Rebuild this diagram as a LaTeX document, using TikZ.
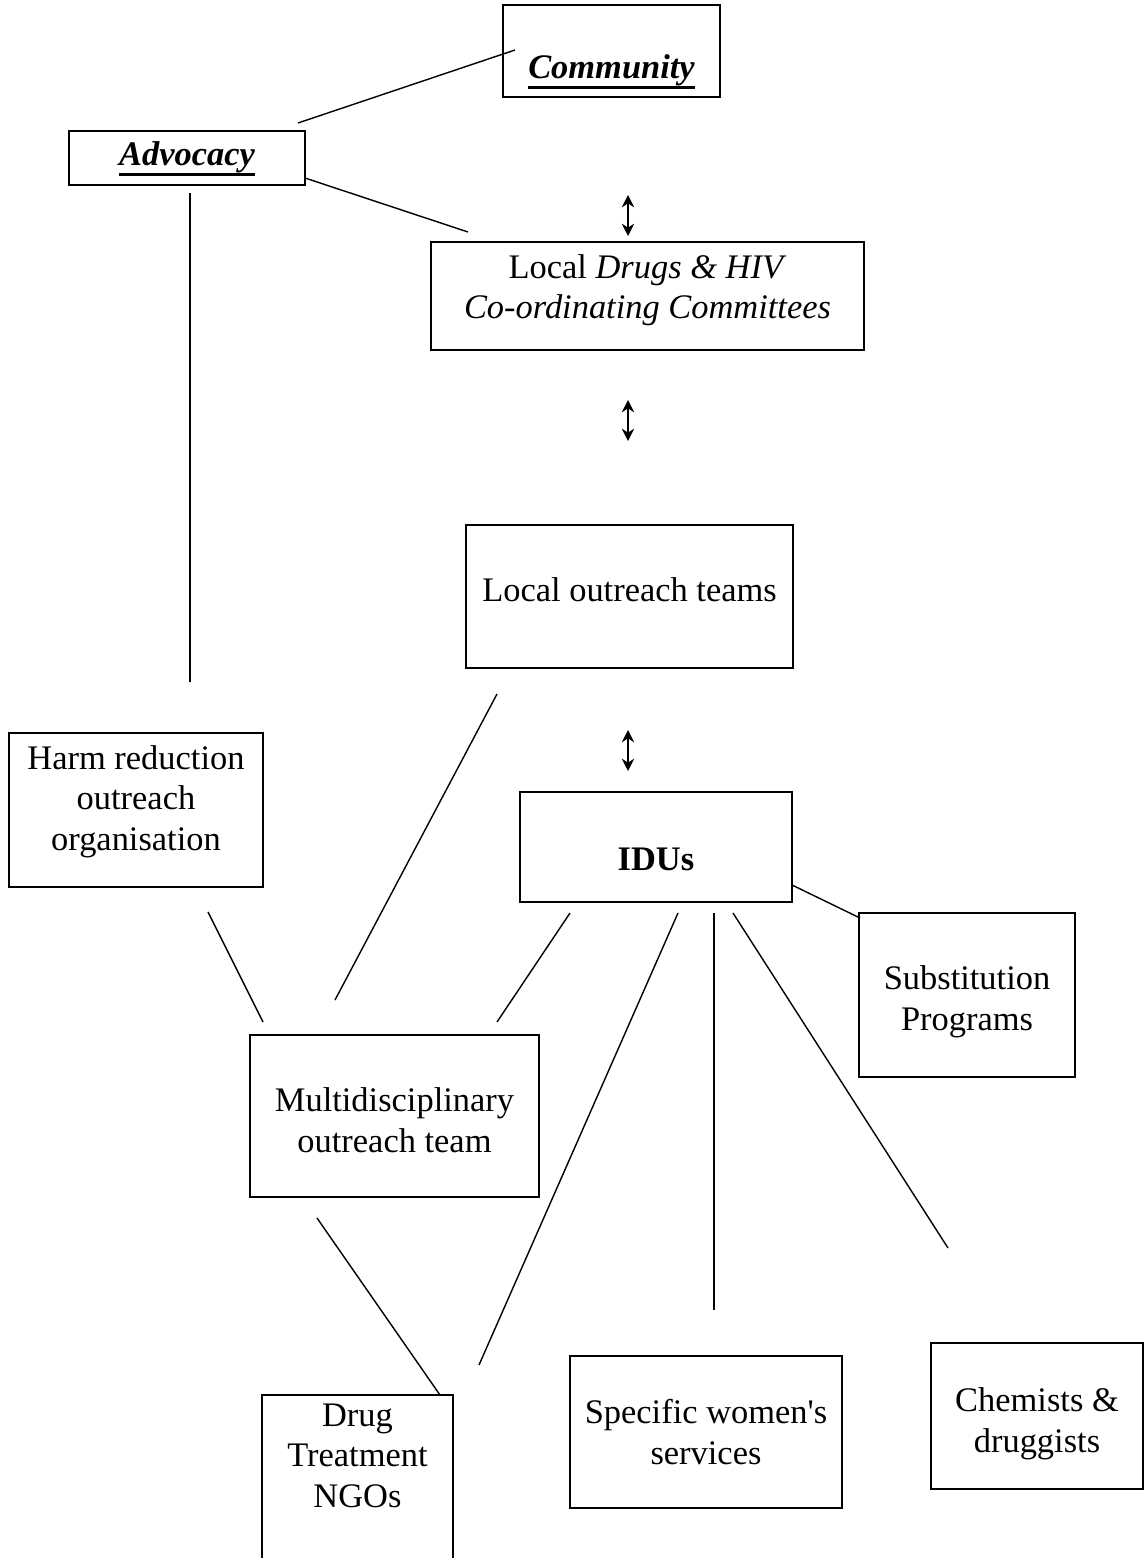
\documentclass[tikz,border=0pt]{standalone}
\usepackage{fontspec}
\setmainfont{Liberation Serif}[Ligatures=TeXOff]
\usepackage{tikz}
\usetikzlibrary{arrows.meta}
\newcommand{\headul}[1]{\setbox0\hbox{#1}\rlap{\vrule width \wd0 height -4.2pt depth 5.9pt}\box0}

\begin{document}
\begin{tikzpicture}[
  x=0.02cm, y=-0.02cm, line width=0.8pt,
  font=\fontsize{19.6}{22.8}\selectfont,
  box/.style={draw, line width=0.9pt, align=center, inner sep=0pt, text depth=0pt},
  twoway/.style={{Stealth[length=7pt,width=7pt]}-{Stealth[length=7pt,width=7pt]}, line width=0.9pt},
  head/.style={font=\fontsize{19.6}{22.8}\selectfont\bfseries\itshape},
]
\useasboundingbox (0,0) rectangle (1144,1558);

% boxes
\node[box, head, minimum width=4.34cm, minimum height=1.84cm, text height=1.12cm] (community) at (611.5,51) {\headul{Community}};
\node[box, head, minimum width=4.72cm, minimum height=1.08cm, text height=0.3cm] (advocacy) at (187,158) {\headul{Advocacy}};
\node[box, minimum width=8.66cm, minimum height=2.16cm, text height=0.9cm] (committees) at (647.5,296) {Local \textit{Drugs \& HIV}\\\textit{Co-ordinating Committees}};
\node[box, minimum width=6.54cm, minimum height=2.86cm, text height=0.2cm] (localteams) at (629.5,596.5) {Local outreach teams};
\node[box, minimum width=5.08cm, minimum height=3.08cm, text height=1.6cm] (harmred) at (136,810) {Harm reduction\\outreach\\organisation};
\node[box, minimum width=5.44cm, minimum height=2.2cm, text height=0.92cm] (idus) at (656,847) {\textbf{IDUs}};
\node[box, minimum width=4.32cm, minimum height=3.28cm, text height=1.4cm] (subst) at (967,995) {Substitution\\Programs};
\node[box, minimum width=5.78cm, minimum height=3.24cm, text height=1.44cm] (multi) at (394.5,1116) {Multidisciplinary\\outreach team};
\node[box, minimum width=3.82cm, minimum height=4cm, text height=0.48cm] (drugngo) at (357.5,1495) {Drug\\Treatment\\NGOs};
\node[box, minimum width=5.44cm, minimum height=3.04cm, text height=1.28cm] (women) at (706,1432) {Specific women's\\services};
\node[box, minimum width=4.24cm, minimum height=2.92cm, text height=1.44cm] (chemists) at (1037,1416) {Chemists \&\\druggists};

% loose line ends
\coordinate (adv-a) at (298,123);   \coordinate (com-a) at (515,50);
\coordinate (adv-b) at (305,178);   \coordinate (cmt-a) at (468,232);
\coordinate (adv-c) at (190,193);   \coordinate (harm-a) at (190,682);
\coordinate (loc-a) at (497,694);   \coordinate (mul-a) at (335,1000);
\coordinate (harm-b) at (208,912);  \coordinate (mul-b) at (263,1022);
\coordinate (idu-a) at (570,913);   \coordinate (mul-c) at (497,1022);
\coordinate (idu-b) at (792,885);   \coordinate (sub-a) at (860,918);
\coordinate (mul-d) at (317,1218);  \coordinate (ngo-a) at (440,1395);
\coordinate (idu-c) at (678,913);   \coordinate (ngo-b) at (479,1365);
\coordinate (idu-d) at (714,913);   \coordinate (wom-a) at (714,1310);
\coordinate (idu-e) at (733,913);   \coordinate (che-a) at (948,1248);

\draw (adv-a) -- (com-a);
\draw (adv-b) -- (cmt-a);
\draw (adv-c) -- (harm-a);
\draw (loc-a) -- (mul-a);
\draw (harm-b) -- (mul-b);
\draw (idu-a) -- (mul-c);
\draw (idu-b) -- (sub-a);
\draw (mul-d) -- (ngo-a);
\draw (idu-c) -- (ngo-b);
\draw (idu-d) -- (wom-a);
\draw (idu-e) -- (che-a);

% two-way arrows
\coordinate (up-a) at (628,195);  \coordinate (dn-a) at (628,236);
\coordinate (up-b) at (628,400);  \coordinate (dn-b) at (628,441);
\coordinate (up-c) at (628,730);  \coordinate (dn-c) at (628,771);
\draw[twoway] (up-a) -- (dn-a);
\draw[twoway] (up-b) -- (dn-b);
\draw[twoway] (up-c) -- (dn-c);
\end{tikzpicture}
\end{document}
